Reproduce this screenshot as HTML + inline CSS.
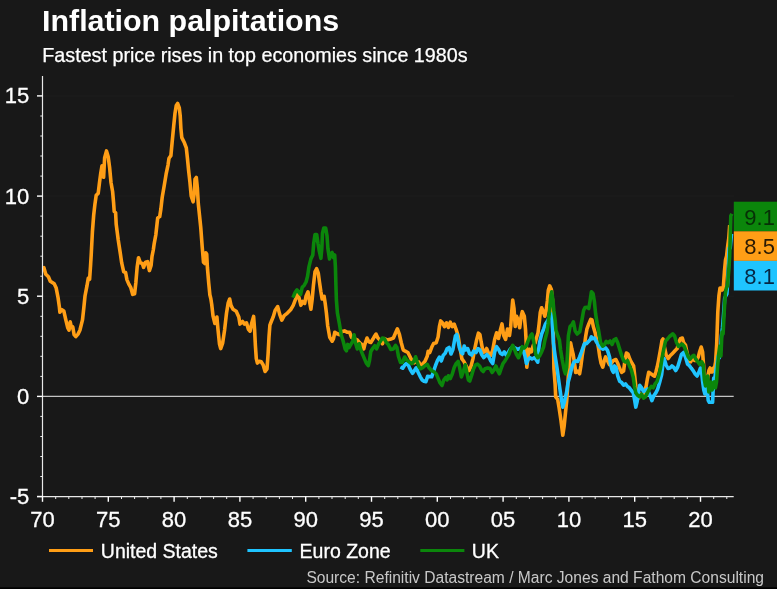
<!DOCTYPE html>
<html><head><meta charset="utf-8"><title>Inflation palpitations</title>
<style>
html,body{margin:0;padding:0;background:#181818;}
body{width:777px;height:589px;overflow:hidden;}
svg{display:block;font-family:"Liberation Sans",Arial,sans-serif;}
</style></head><body>
<svg width="777" height="589" viewBox="0 0 777 589">
<rect x="0" y="0" width="777" height="589" fill="#181818"/>
<rect x="0" y="587.3" width="777" height="1.7" fill="#000"/>
<text x="42" y="30.6" font-size="30.4" font-weight="bold" fill="#fff">Inflation palpitations</text>
<text x="42.3" y="61.5" font-size="19.73" fill="#fff" stroke="#fff" stroke-width="0.25">Fastest price rises in top economies since 1980s</text>

<line x1="42.5" y1="95.9" x2="733.7" y2="95.9" stroke="#242424" stroke-width="1" stroke-dasharray="1 1"/>
<line x1="42.5" y1="196.1" x2="733.7" y2="196.1" stroke="#242424" stroke-width="1" stroke-dasharray="1 1"/>
<line x1="42.5" y1="296.2" x2="733.7" y2="296.2" stroke="#242424" stroke-width="1" stroke-dasharray="1 1"/>
<line x1="42.5" y1="396.4" x2="733.7" y2="396.4" stroke="#c4c4c4" stroke-width="1.2"/>
<path d="M42.9,268.5 L43.9,267.7 L45.8,274.2 L48.4,276.7 L50.3,281.2 L54.2,283.8 L56.1,287.7 L58.0,297.3 L59.3,306.4 L59.9,312.2 L61.9,309.7 L63.8,310.9 L65.7,319.3 L67.7,327.7 L69.0,330.2 L70.2,321.9 L71.5,327.7 L72.8,327.0 L74.1,334.7 L75.8,336.7 L78.0,334.1 L79.9,330.2 L82.5,319.9 L83.8,308.0 L85.0,296.0 L87.0,285.7 L88.3,278.0 L89.6,279.3 L90.5,266.4 L91.2,255.0 L92.4,232.0 L93.7,215.0 L94.9,204.4 L96.2,195.3 L98.2,193.4 L99.5,182.5 L100.7,173.5 L102.0,165.7 L103.6,177.3 L104.6,158.0 L106.5,150.9 L108.2,156.7 L109.7,168.3 L111.0,182.5 L112.6,191.5 L113.6,203.0 L114.2,211.4 L115.6,212.7 L116.2,224.3 L118.2,239.7 L120.2,252.6 L121.7,262.9 L123.7,271.9 L125.6,272.5 L126.9,279.6 L128.8,284.1 L130.7,287.3 L132.7,294.4 L134.6,293.8 L135.9,282.2 L137.2,266.7 L138.5,257.7 L140.4,262.9 L142.3,263.5 L143.6,267.4 L145.5,262.2 L147.5,261.6 L149.4,270.6 L151.1,265.4 L152.0,256.4 L153.3,250.0 L154.2,243.6 L155.8,235.0 L157.7,217.9 L159.7,216.6 L160.9,208.9 L162.2,197.3 L164.2,185.7 L166.1,174.2 L168.0,165.1 L169.0,158.2 L170.9,155.6 L172.2,141.5 L173.7,126.0 L175.0,113.2 L176.3,105.4 L177.6,103.5 L179.3,108.0 L180.2,115.7 L180.9,128.6 L181.8,137.6 L184.4,142.8 L186.3,147.9 L187.4,158.0 L188.6,170.3 L189.9,181.9 L191.2,196.0 L193.1,201.8 L194.4,192.2 L195.0,179.3 L196.3,177.4 L197.4,188.3 L198.3,203.8 L199.5,215.3 L200.8,228.0 L202.2,246.9 L203.5,262.3 L204.8,263.6 L205.7,252.7 L206.7,254.0 L207.4,267.5 L208.7,282.9 L209.9,295.0 L210.8,298.5 L211.7,304.2 L213.0,315.7 L214.9,323.5 L216.9,317.0 L217.9,328.6 L219.5,344.1 L220.7,348.6 L222.7,342.8 L224.6,329.9 L226.5,313.2 L228.2,302.9 L229.7,299.0 L231.0,305.4 L233.0,309.3 L236.2,311.2 L238.8,317.0 L240.0,324.1 L242.6,321.5 L244.5,324.1 L246.5,322.8 L248.4,329.3 L250.1,331.2 L251.6,323.5 L253.6,316.4 L254.6,330.0 L255.4,345.7 L256.3,358.6 L257.4,363.1 L259.3,361.2 L261.2,361.8 L263.2,365.0 L265.1,371.5 L267.0,368.9 L268.1,354.0 L269.0,337.0 L269.9,325.1 L271.3,321.5 L273.2,316.9 L275.1,310.5 L277.7,306.6 L279.7,314.4 L281.8,320.1 L284.2,315.6 L287.4,313.1 L290.6,309.8 L293.2,305.3 L295.7,298.9 L297.0,293.8 L299.0,297.6 L300.9,305.3 L302.8,301.5 L304.7,303.4 L306.0,296.3 L308.0,291.8 L309.3,300.2 L310.9,309.2 L312.2,298.9 L313.5,284.7 L315.0,271.9 L316.6,268.7 L318.3,273.2 L319.5,282.2 L320.8,291.2 L322.1,298.9 L324.1,296.3 L325.3,304.1 L326.4,312.9 L327.7,325.7 L329.7,337.3 L332.2,341.2 L333.5,338.6 L334.8,332.2 L336.7,333.5 L339.3,334.7 L341.9,331.5 L344.5,330.9 L347.0,332.2 L349.6,332.2 L351.5,337.3 L354.1,338.6 L357.3,339.9 L359.9,343.1 L361.8,344.4 L363.8,348.9 L365.0,343.8 L367.0,338.0 L368.9,341.8 L370.8,342.5 L372.8,339.3 L374.7,336.0 L376.0,334.1 L377.9,338.0 L379.8,339.9 L382.4,343.8 L384.3,338.6 L386.9,339.9 L390.1,339.3 L393.4,338.0 L395.3,333.5 L397.4,328.8 L399.3,334.0 L401.2,342.5 L403.2,349.9 L405.3,351.2 L407.9,352.5 L409.8,356.3 L411.7,360.2 L414.3,362.8 L416.2,361.5 L418.8,362.1 L420.7,365.3 L422.7,364.1 L425.2,360.8 L427.2,356.3 L428.2,351.2 L429.7,352.5 L431.7,347.3 L433.6,343.5 L436.2,342.8 L438.1,337.0 L439.4,326.7 L440.7,320.9 L442.6,322.9 L444.5,326.7 L446.5,322.9 L448.4,327.4 L450.3,322.2 L452.3,326.7 L454.2,324.2 L456.1,329.3 L458.1,335.7 L459.3,343.5 L460.6,351.2 L461.9,358.9 L463.9,361.5 L466.4,366.6 L469.0,370.5 L470.9,366.6 L472.9,358.9 L474.8,348.6 L476.7,339.6 L478.4,333.2 L479.9,334.5 L481.2,342.2 L483.2,352.5 L485.1,351.2 L486.6,348.5 L488.6,353.5 L490.6,355.5 L492.7,350.3 L494.7,339.2 L496.6,332.8 L498.5,338.5 L500.4,330.0 L502.0,323.9 L503.7,335.5 L505.6,339.4 L507.5,329.1 L509.5,335.5 L510.7,326.5 L511.8,311.0 L512.7,300.1 L514.0,308.5 L515.2,326.5 L516.5,316.2 L518.2,320.0 L519.7,327.8 L521.0,317.5 L522.3,311.7 L524.3,316.2 L525.5,329.1 L526.2,342.9 L526.8,367.3 L528.1,355.7 L529.4,349.3 L531.3,351.9 L533.3,345.4 L535.2,342.9 L536.5,337.7 L538.0,333.0 L539.1,323.9 L540.3,312.3 L541.6,307.8 L543.6,312.3 L544.8,316.2 L546.1,311.0 L547.4,300.7 L548.3,290.4 L549.7,285.9 L551.3,289.2 L552.5,300.0 L553.3,330.0 L553.9,368.6 L555.1,384.0 L555.7,396.9 L557.7,399.5 L559.0,407.2 L560.9,420.0 L562.2,430.3 L562.8,435.2 L564.1,426.5 L565.4,413.6 L566.7,400.7 L567.6,387.9 L568.4,375.0 L569.3,365.0 L569.9,352.0 L570.6,342.9 L571.9,349.3 L573.2,354.4 L574.4,362.2 L575.7,372.5 L577.7,371.2 L579.6,373.8 L580.9,366.0 L582.2,355.7 L583.5,348.0 L585.0,341.6 L585.6,336.8 L586.9,329.1 L588.8,323.9 L590.7,319.4 L592.0,320.0 L593.3,326.5 L595.2,332.9 L596.5,339.4 L597.4,342.5 L598.5,347.9 L599.8,356.9 L601.1,363.3 L602.8,367.2 L604.3,360.7 L605.6,356.9 L607.5,360.7 L609.5,364.6 L611.4,363.3 L613.3,360.7 L615.9,359.5 L617.8,363.3 L619.7,368.5 L621.7,372.3 L623.6,371.0 L624.9,360.7 L626.4,353.0 L628.1,354.3 L630.0,359.5 L632.0,363.3 L633.6,365.9 L634.5,373.6 L635.8,386.5 L637.1,396.8 L638.4,398.1 L640.3,394.2 L642.3,395.5 L644.2,391.6 L646.1,386.5 L647.4,378.8 L648.7,372.3 L650.6,373.6 L652.6,374.9 L654.5,376.2 L655.8,372.3 L657.2,367.0 L658.5,360.5 L660.4,350.2 L662.0,340.5 L663.0,339.0 L664.3,346.3 L666.2,355.3 L668.2,358.5 L670.1,355.8 L672.7,353.2 L675.2,350.6 L677.2,348.5 L678.7,342.5 L680.4,338.6 L682.3,338.0 L683.6,342.5 L685.5,345.0 L686.8,351.5 L688.8,360.5 L690.7,361.8 L692.6,357.9 L694.5,360.5 L696.5,360.5 L698.4,356.6 L699.7,351.5 L701.2,347.0 L702.6,352.0 L703.6,366.0 L704.6,390.0 L705.7,394.0 L706.8,384.0 L707.9,376.0 L709.0,370.2 L710.1,368.0 L711.2,372.0 L712.3,372.0 L713.4,368.0 L714.5,368.0 L715.6,362.0 L716.7,344.0 L717.8,312.0 L718.9,296.0 L720.0,288.0 L721.1,288.0 L722.2,290.0 L723.3,288.0 L724.4,272.0 L725.5,260.0 L726.6,256.0 L727.7,246.0 L728.8,238.0 L729.7,225.0" fill="none" stroke="#ff9e16" stroke-width="3.6" stroke-linejoin="round" stroke-linecap="butt"/>
<path d="M400.4,367.0 L402.7,368.2 L404.7,365.0 L406.6,363.4 L408.5,365.6 L410.4,369.8 L412.6,373.3 L414.3,370.8 L416.2,367.8 L418.2,372.5 L420.3,376.8 L422.2,380.0 L424.0,381.3 L425.9,381.7 L427.6,376.4 L429.5,376.6 L431.7,376.8 L433.6,371.3 L435.5,365.5 L437.5,360.4 L439.4,357.1 L441.3,361.0 L443.3,355.2 L445.2,353.3 L447.1,348.8 L449.1,347.5 L451.0,354.0 L452.9,349.5 L454.2,342.2 L455.5,335.7 L456.8,334.5 L458.1,340.9 L459.3,347.3 L461.3,352.5 L462.6,353.8 L464.2,346.0 L465.8,349.9 L467.7,348.6 L469.6,353.8 L471.6,355.0 L473.5,351.2 L476.1,352.5 L478.0,348.6 L479.9,349.9 L481.9,355.0 L483.8,357.6 L485.4,356.0 L486.9,354.5 L488.9,357.0 L490.8,360.9 L492.7,363.5 L494.7,351.9 L496.6,346.7 L498.5,349.3 L500.4,353.2 L502.4,354.5 L504.3,351.9 L506.2,355.1 L508.2,352.5 L510.1,349.3 L512.7,346.7 L515.2,348.0 L517.8,349.3 L520.4,348.0 L523.0,349.3 L524.9,355.7 L526.4,363.5 L528.1,359.6 L530.0,357.7 L532.0,359.0 L534.5,357.7 L536.5,360.2 L537.8,362.2 L538.6,350.0 L539.7,341.9 L541.6,334.2 L543.6,329.1 L545.5,323.9 L548.1,320.0 L549.4,316.2 L550.6,313.6 L551.9,317.5 L552.7,330.3 L553.4,342.9 L555.1,355.7 L557.1,368.6 L559.0,382.5 L560.9,396.0 L562.8,407.2 L564.7,400.7 L566.7,391.7 L568.0,382.7 L569.3,378.0 L570.5,373.0 L571.9,367.3 L573.8,362.2 L575.7,360.9 L577.7,361.5 L579.6,357.0 L581.5,351.9 L583.2,347.0 L584.6,343.5 L586.6,343.6 L588.5,341.5 L590.3,339.5 L591.4,336.8 L592.7,338.6 L594.5,338.0 L596.2,341.5 L598.2,344.5 L600.2,347.6 L603.0,349.2 L605.6,347.9 L607.5,350.4 L609.5,356.9 L610.7,364.6 L612.0,369.7 L613.3,372.3 L614.6,365.9 L615.9,367.2 L617.8,376.2 L619.7,381.3 L621.7,382.6 L623.6,385.2 L625.5,383.9 L627.5,386.5 L629.4,387.8 L631.3,390.3 L633.3,392.9 L634.5,399.4 L635.8,407.1 L637.1,401.9 L638.4,392.9 L639.7,385.2 L641.6,387.8 L643.6,391.6 L645.5,390.3 L647.4,389.1 L649.4,394.2 L650.6,396.8 L651.9,400.6 L653.9,395.5 L655.8,392.9 L657.7,389.1 L659.6,382.6 L661.6,374.9 L662.9,364.6 L664.1,358.5 L666.1,365.0 L668.0,368.5 L669.9,368.0 L671.9,366.0 L673.8,367.5 L675.7,370.5 L677.7,367.0 L679.6,360.7 L681.5,354.3 L683.5,352.5 L685.5,357.0 L687.5,364.0 L689.4,365.6 L691.3,368.2 L693.3,370.8 L695.2,374.0 L697.1,376.0 L699.0,372.0 L700.4,368.0 L701.6,372.0 L702.7,382.0 L703.8,390.0 L704.9,394.0 L706.0,390.0 L707.1,388.0 L708.2,400.3 L709.3,402.3 L710.4,402.3 L711.5,402.3 L712.6,402.3 L713.7,378.0 L714.8,378.0 L715.9,370.0 L717.0,364.0 L718.1,356.0 L719.2,358.0 L720.3,352.0 L721.4,336.0 L722.5,328.0 L723.6,314.0 L724.7,298.0 L725.8,296.0 L726.9,294.0 L728.0,278.0 L729.1,248.0 L730.2,248.0 L731.5,233.8" fill="none" stroke="#1fc4ff" stroke-width="3.6" stroke-linejoin="round" stroke-linecap="butt"/>
<path d="M292.9,297.6 L295.1,292.5 L297.0,289.9 L299.0,292.5 L300.6,294.4 L302.2,287.3 L304.1,285.4 L306.0,282.2 L307.5,276.5 L309.0,266.6 L310.9,258.9 L312.8,255.0 L313.7,243.5 L315.0,234.5 L316.7,234.5 L318.0,243.5 L319.3,251.2 L320.9,258.3 L321.8,248.6 L322.5,233.2 L323.8,228.0 L325.7,228.0 L327.0,235.7 L327.9,248.6 L329.5,258.9 L330.8,253.8 L332.1,252.5 L333.4,257.6 L334.7,255.0 L335.4,266.6 L335.9,285.0 L336.4,300.0 L337.4,312.9 L339.3,323.2 L341.2,334.7 L343.2,341.2 L345.1,348.9 L346.4,350.8 L347.7,344.4 L349.0,347.6 L350.9,344.4 L352.8,341.2 L354.1,334.7 L355.4,342.5 L357.3,348.9 L359.3,343.8 L360.5,348.9 L362.5,354.1 L364.4,358.6 L366.3,363.1 L368.3,365.6 L369.5,360.5 L370.8,351.5 L372.8,348.3 L374.7,345.7 L376.6,348.9 L378.6,343.8 L380.5,341.2 L382.4,338.0 L384.3,338.6 L386.3,342.5 L388.2,344.4 L390.8,349.5 L393.4,348.9 L395.5,345.4 L396.9,347.5 L398.5,356.5 L400.5,362.5 L402.4,362.5 L404.7,357.0 L406.6,359.8 L409.2,362.0 L411.7,363.6 L413.7,361.7 L415.6,356.8 L417.2,362.0 L418.8,366.5 L420.7,368.7 L422.7,367.7 L425.2,365.5 L427.2,364.3 L429.1,367.8 L431.7,370.7 L434.3,372.0 L436.2,373.9 L438.1,378.4 L440.1,383.0 L442.0,385.5 L443.9,379.8 L445.8,377.5 L447.1,379.9 L448.4,375.8 L450.3,378.5 L452.3,374.0 L454.2,367.5 L456.1,363.6 L458.1,361.4 L459.6,367.5 L461.4,377.0 L463.4,371.5 L465.3,364.8 L466.6,371.3 L468.4,380.0 L469.8,381.0 L471.6,375.5 L473.5,369.0 L475.4,365.0 L477.4,364.0 L479.6,366.0 L481.6,370.0 L483.2,371.5 L485.0,368.8 L487.6,368.0 L490.1,368.6 L492.1,372.5 L494.0,369.9 L495.9,366.0 L497.9,371.2 L499.4,373.8 L501.1,368.6 L503.0,363.5 L505.0,360.9 L506.9,357.7 L508.8,354.5 L510.7,349.5 L512.7,345.3 L514.6,349.5 L516.5,354.5 L518.5,357.7 L520.4,353.2 L522.3,346.7 L524.3,348.0 L526.2,346.1 L528.1,341.0 L529.4,338.0 L530.7,335.5 L532.0,334.0 L533.5,340.5 L534.7,347.5 L535.8,354.5 L537.8,357.7 L539.7,355.7 L541.6,351.9 L543.6,347.0 L544.8,340.5 L546.8,332.8 L548.1,324.0 L549.4,312.3 L550.6,298.2 L551.7,291.7 L553.0,300.7 L553.9,311.0 L555.1,320.0 L556.0,330.3 L557.9,336.0 L559.4,340.0 L560.6,350.0 L562.2,359.6 L564.2,369.9 L565.4,373.8 L566.7,367.3 L567.7,350.0 L568.4,335.5 L570.1,326.5 L572.1,324.5 L573.4,321.8 L575.2,331.0 L577.2,334.0 L579.8,331.6 L581.7,321.3 L583.6,310.5 L585.0,307.5 L586.9,307.2 L588.8,308.5 L590.1,300.7 L591.4,291.7 L593.1,293.7 L594.3,300.7 L595.6,313.6 L597.2,323.9 L598.5,330.0 L599.5,336.0 L600.6,342.7 L602.6,346.2 L604.3,345.0 L606.2,341.4 L608.2,342.7 L610.1,341.0 L612.0,344.5 L614.0,339.8 L615.9,338.7 L617.8,343.0 L619.7,349.2 L621.7,355.6 L623.6,360.7 L625.5,362.0 L627.5,360.7 L629.4,365.9 L631.3,369.7 L633.3,377.5 L634.5,386.5 L635.8,392.9 L637.8,395.5 L639.7,396.8 L641.6,394.2 L643.6,398.1 L645.5,396.8 L647.4,392.9 L649.4,389.1 L651.3,386.5 L653.2,387.8 L655.1,383.9 L657.1,381.3 L659.0,374.9 L660.6,367.5 L662.0,358.5 L663.6,350.0 L665.5,341.0 L667.5,339.0 L669.5,336.5 L671.4,335.0 L672.7,333.8 L674.6,336.0 L676.5,342.5 L678.5,346.3 L680.4,345.0 L682.3,344.2 L684.3,346.5 L686.2,351.5 L688.1,356.6 L690.0,359.2 L692.0,356.6 L693.9,355.3 L695.8,359.2 L697.8,361.8 L699.7,364.4 L701.6,361.8 L703.2,364.4 L704.4,380.0 L705.5,386.0 L706.6,384.0 L707.7,376.0 L708.8,392.0 L709.9,386.0 L711.0,382.0 L712.1,390.0 L713.2,384.0 L714.3,382.0 L715.4,388.0 L716.5,382.0 L717.6,366.0 L718.7,354.0 L719.8,346.0 L720.9,356.0 L722.0,332.0 L723.1,334.0 L724.2,312.0 L725.3,294.0 L726.4,288.0 L727.5,286.0 L728.6,272.0 L729.7,256.0 L730.8,216.0 L731.8,213.8" fill="none" stroke="#0b860b" stroke-width="3.6" stroke-linejoin="round" stroke-linecap="butt"/>
<line x1="42.5" y1="76" x2="42.5" y2="497.2" stroke="#e8e8e8" stroke-width="1.2"/>
<line x1="37" y1="496.6" x2="733.7" y2="496.6" stroke="#e8e8e8" stroke-width="1.2"/>
<line x1="37" y1="496.5" x2="42.5" y2="496.5" stroke="#fff" stroke-width="1.4"/>
<line x1="40.3" y1="476.5" x2="42.5" y2="476.5" stroke="#e8e8e8" stroke-width="1"/>
<line x1="40.3" y1="456.5" x2="42.5" y2="456.5" stroke="#e8e8e8" stroke-width="1"/>
<line x1="40.3" y1="436.5" x2="42.5" y2="436.5" stroke="#e8e8e8" stroke-width="1"/>
<line x1="40.3" y1="416.4" x2="42.5" y2="416.4" stroke="#e8e8e8" stroke-width="1"/>
<line x1="37" y1="396.4" x2="42.5" y2="396.4" stroke="#fff" stroke-width="1.4"/>
<line x1="40.3" y1="376.4" x2="42.5" y2="376.4" stroke="#e8e8e8" stroke-width="1"/>
<line x1="40.3" y1="356.3" x2="42.5" y2="356.3" stroke="#e8e8e8" stroke-width="1"/>
<line x1="40.3" y1="336.3" x2="42.5" y2="336.3" stroke="#e8e8e8" stroke-width="1"/>
<line x1="40.3" y1="316.3" x2="42.5" y2="316.3" stroke="#e8e8e8" stroke-width="1"/>
<line x1="37" y1="296.2" x2="42.5" y2="296.2" stroke="#fff" stroke-width="1.4"/>
<line x1="40.3" y1="276.2" x2="42.5" y2="276.2" stroke="#e8e8e8" stroke-width="1"/>
<line x1="40.3" y1="256.2" x2="42.5" y2="256.2" stroke="#e8e8e8" stroke-width="1"/>
<line x1="40.3" y1="236.2" x2="42.5" y2="236.2" stroke="#e8e8e8" stroke-width="1"/>
<line x1="40.3" y1="216.1" x2="42.5" y2="216.1" stroke="#e8e8e8" stroke-width="1"/>
<line x1="37" y1="196.1" x2="42.5" y2="196.1" stroke="#fff" stroke-width="1.4"/>
<line x1="40.3" y1="176.1" x2="42.5" y2="176.1" stroke="#e8e8e8" stroke-width="1"/>
<line x1="40.3" y1="156.0" x2="42.5" y2="156.0" stroke="#e8e8e8" stroke-width="1"/>
<line x1="40.3" y1="136.0" x2="42.5" y2="136.0" stroke="#e8e8e8" stroke-width="1"/>
<line x1="40.3" y1="116.0" x2="42.5" y2="116.0" stroke="#e8e8e8" stroke-width="1"/>
<line x1="37" y1="95.9" x2="42.5" y2="95.9" stroke="#fff" stroke-width="1.4"/>
<line x1="42.5" y1="496.6" x2="42.5" y2="501.8" stroke="#fff" stroke-width="1.4"/>
<line x1="55.7" y1="496.6" x2="55.7" y2="499" stroke="#e8e8e8" stroke-width="1"/>
<line x1="68.8" y1="496.6" x2="68.8" y2="499" stroke="#e8e8e8" stroke-width="1"/>
<line x1="82.0" y1="496.6" x2="82.0" y2="499" stroke="#e8e8e8" stroke-width="1"/>
<line x1="95.1" y1="496.6" x2="95.1" y2="499" stroke="#e8e8e8" stroke-width="1"/>
<line x1="108.3" y1="496.6" x2="108.3" y2="501.8" stroke="#fff" stroke-width="1.4"/>
<line x1="121.5" y1="496.6" x2="121.5" y2="499" stroke="#e8e8e8" stroke-width="1"/>
<line x1="134.6" y1="496.6" x2="134.6" y2="499" stroke="#e8e8e8" stroke-width="1"/>
<line x1="147.8" y1="496.6" x2="147.8" y2="499" stroke="#e8e8e8" stroke-width="1"/>
<line x1="160.9" y1="496.6" x2="160.9" y2="499" stroke="#e8e8e8" stroke-width="1"/>
<line x1="174.1" y1="496.6" x2="174.1" y2="501.8" stroke="#fff" stroke-width="1.4"/>
<line x1="187.3" y1="496.6" x2="187.3" y2="499" stroke="#e8e8e8" stroke-width="1"/>
<line x1="200.4" y1="496.6" x2="200.4" y2="499" stroke="#e8e8e8" stroke-width="1"/>
<line x1="213.6" y1="496.6" x2="213.6" y2="499" stroke="#e8e8e8" stroke-width="1"/>
<line x1="226.7" y1="496.6" x2="226.7" y2="499" stroke="#e8e8e8" stroke-width="1"/>
<line x1="239.9" y1="496.6" x2="239.9" y2="501.8" stroke="#fff" stroke-width="1.4"/>
<line x1="253.1" y1="496.6" x2="253.1" y2="499" stroke="#e8e8e8" stroke-width="1"/>
<line x1="266.2" y1="496.6" x2="266.2" y2="499" stroke="#e8e8e8" stroke-width="1"/>
<line x1="279.4" y1="496.6" x2="279.4" y2="499" stroke="#e8e8e8" stroke-width="1"/>
<line x1="292.5" y1="496.6" x2="292.5" y2="499" stroke="#e8e8e8" stroke-width="1"/>
<line x1="305.7" y1="496.6" x2="305.7" y2="501.8" stroke="#fff" stroke-width="1.4"/>
<line x1="318.9" y1="496.6" x2="318.9" y2="499" stroke="#e8e8e8" stroke-width="1"/>
<line x1="332.0" y1="496.6" x2="332.0" y2="499" stroke="#e8e8e8" stroke-width="1"/>
<line x1="345.2" y1="496.6" x2="345.2" y2="499" stroke="#e8e8e8" stroke-width="1"/>
<line x1="358.3" y1="496.6" x2="358.3" y2="499" stroke="#e8e8e8" stroke-width="1"/>
<line x1="371.5" y1="496.6" x2="371.5" y2="501.8" stroke="#fff" stroke-width="1.4"/>
<line x1="384.7" y1="496.6" x2="384.7" y2="499" stroke="#e8e8e8" stroke-width="1"/>
<line x1="397.8" y1="496.6" x2="397.8" y2="499" stroke="#e8e8e8" stroke-width="1"/>
<line x1="411.0" y1="496.6" x2="411.0" y2="499" stroke="#e8e8e8" stroke-width="1"/>
<line x1="424.1" y1="496.6" x2="424.1" y2="499" stroke="#e8e8e8" stroke-width="1"/>
<line x1="437.3" y1="496.6" x2="437.3" y2="501.8" stroke="#fff" stroke-width="1.4"/>
<line x1="450.5" y1="496.6" x2="450.5" y2="499" stroke="#e8e8e8" stroke-width="1"/>
<line x1="463.6" y1="496.6" x2="463.6" y2="499" stroke="#e8e8e8" stroke-width="1"/>
<line x1="476.8" y1="496.6" x2="476.8" y2="499" stroke="#e8e8e8" stroke-width="1"/>
<line x1="489.9" y1="496.6" x2="489.9" y2="499" stroke="#e8e8e8" stroke-width="1"/>
<line x1="503.1" y1="496.6" x2="503.1" y2="501.8" stroke="#fff" stroke-width="1.4"/>
<line x1="516.3" y1="496.6" x2="516.3" y2="499" stroke="#e8e8e8" stroke-width="1"/>
<line x1="529.4" y1="496.6" x2="529.4" y2="499" stroke="#e8e8e8" stroke-width="1"/>
<line x1="542.6" y1="496.6" x2="542.6" y2="499" stroke="#e8e8e8" stroke-width="1"/>
<line x1="555.7" y1="496.6" x2="555.7" y2="499" stroke="#e8e8e8" stroke-width="1"/>
<line x1="568.9" y1="496.6" x2="568.9" y2="501.8" stroke="#fff" stroke-width="1.4"/>
<line x1="582.1" y1="496.6" x2="582.1" y2="499" stroke="#e8e8e8" stroke-width="1"/>
<line x1="595.2" y1="496.6" x2="595.2" y2="499" stroke="#e8e8e8" stroke-width="1"/>
<line x1="608.4" y1="496.6" x2="608.4" y2="499" stroke="#e8e8e8" stroke-width="1"/>
<line x1="621.5" y1="496.6" x2="621.5" y2="499" stroke="#e8e8e8" stroke-width="1"/>
<line x1="634.7" y1="496.6" x2="634.7" y2="501.8" stroke="#fff" stroke-width="1.4"/>
<line x1="647.9" y1="496.6" x2="647.9" y2="499" stroke="#e8e8e8" stroke-width="1"/>
<line x1="661.0" y1="496.6" x2="661.0" y2="499" stroke="#e8e8e8" stroke-width="1"/>
<line x1="674.2" y1="496.6" x2="674.2" y2="499" stroke="#e8e8e8" stroke-width="1"/>
<line x1="687.3" y1="496.6" x2="687.3" y2="499" stroke="#e8e8e8" stroke-width="1"/>
<line x1="700.5" y1="496.6" x2="700.5" y2="501.8" stroke="#fff" stroke-width="1.4"/>
<line x1="713.7" y1="496.6" x2="713.7" y2="499" stroke="#e8e8e8" stroke-width="1"/>
<line x1="726.8" y1="496.6" x2="726.8" y2="499" stroke="#e8e8e8" stroke-width="1"/>
<text x="29.3" y="103.3" font-size="22" fill="#fff" stroke="#fff" stroke-width="0.3" text-anchor="end">15</text>
<text x="29.3" y="203.5" font-size="22" fill="#fff" stroke="#fff" stroke-width="0.3" text-anchor="end">10</text>
<text x="29.3" y="303.6" font-size="22" fill="#fff" stroke="#fff" stroke-width="0.3" text-anchor="end">5</text>
<text x="29.3" y="403.8" font-size="22" fill="#fff" stroke="#fff" stroke-width="0.3" text-anchor="end">0</text>
<text x="29.3" y="503.9" font-size="22" fill="#fff" stroke="#fff" stroke-width="0.3" text-anchor="end">-5</text>
<text x="42.5" y="526.8" font-size="22" fill="#fff" stroke="#fff" stroke-width="0.3" text-anchor="middle">70</text>
<text x="108.3" y="526.8" font-size="22" fill="#fff" stroke="#fff" stroke-width="0.3" text-anchor="middle">75</text>
<text x="174.1" y="526.8" font-size="22" fill="#fff" stroke="#fff" stroke-width="0.3" text-anchor="middle">80</text>
<text x="239.9" y="526.8" font-size="22" fill="#fff" stroke="#fff" stroke-width="0.3" text-anchor="middle">85</text>
<text x="305.7" y="526.8" font-size="22" fill="#fff" stroke="#fff" stroke-width="0.3" text-anchor="middle">90</text>
<text x="371.5" y="526.8" font-size="22" fill="#fff" stroke="#fff" stroke-width="0.3" text-anchor="middle">95</text>
<text x="437.3" y="526.8" font-size="22" fill="#fff" stroke="#fff" stroke-width="0.3" text-anchor="middle">00</text>
<text x="503.1" y="526.8" font-size="22" fill="#fff" stroke="#fff" stroke-width="0.3" text-anchor="middle">05</text>
<text x="568.9" y="526.8" font-size="22" fill="#fff" stroke="#fff" stroke-width="0.3" text-anchor="middle">10</text>
<text x="634.7" y="526.8" font-size="22" fill="#fff" stroke="#fff" stroke-width="0.3" text-anchor="middle">15</text>
<text x="700.5" y="526.8" font-size="22" fill="#fff" stroke="#fff" stroke-width="0.3" text-anchor="middle">20</text>
<rect x="733.8" y="201.7" width="43.2" height="29.6" fill="#0b860b"/>
<rect x="733.8" y="231.3" width="43.2" height="29.6" fill="#ff9e16"/>
<rect x="733.8" y="260.9" width="43.2" height="29.6" fill="#1fc4ff"/>
<text x="744.3" y="224.8" font-size="22" fill="#073007">9.1</text>
<text x="744.3" y="254.3" font-size="22" fill="#2a1a04">8.5</text>
<text x="744.3" y="283.8" font-size="22" fill="#062845">8.1</text>
<line x1="49" y1="550.5" x2="93" y2="550.5" stroke="#ff9e16" stroke-width="3.2"/>
<text x="100.8" y="558" font-size="19.5" fill="#fff" stroke="#fff" stroke-width="0.3">United States</text>
<line x1="247.4" y1="550.5" x2="291.8" y2="550.5" stroke="#1fc4ff" stroke-width="3.2"/>
<text x="299.6" y="558" font-size="19.5" fill="#fff" stroke="#fff" stroke-width="0.3">Euro Zone</text>
<line x1="420.3" y1="550.5" x2="464.4" y2="550.5" stroke="#0b860b" stroke-width="3.2"/>
<text x="471.8" y="558" font-size="19.5" fill="#fff" stroke="#fff" stroke-width="0.3">UK</text>
<text x="764" y="583" font-size="15.6" fill="#c8c8c8" text-anchor="end">Source: Refinitiv Datastream / Marc Jones and Fathom Consulting</text>
</svg></body></html>
